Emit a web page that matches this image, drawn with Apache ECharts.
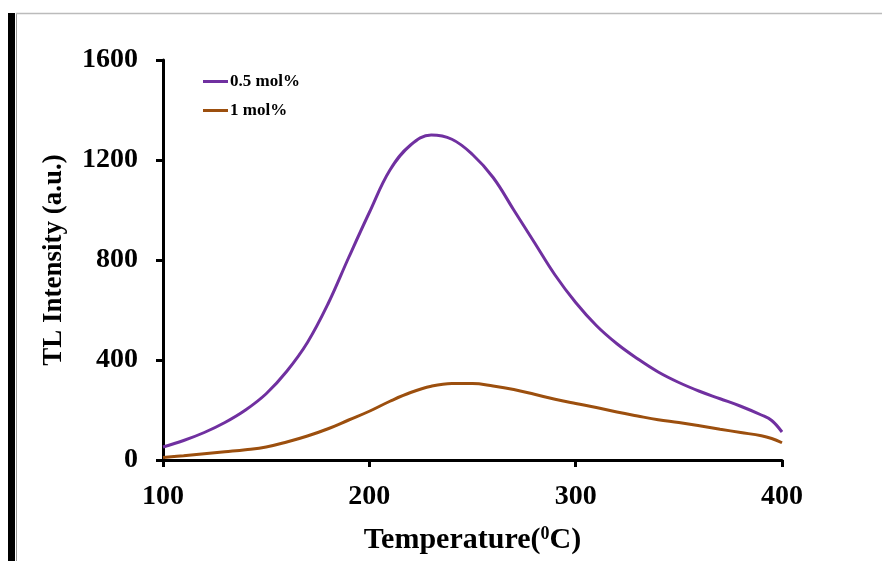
<!DOCTYPE html>
<html>
<head>
<meta charset="utf-8">
<script src="https://cdn.jsdelivr.net/npm/echarts@6/dist/echarts.min.js"></script>
<style>
html,body{margin:0;padding:0;background:#fff;}
#chart{width:882px;height:561px;}
</style>
</head>
<body>
<div id="chart"></div>
<script>
// Data
var temperature = [100,110,120,130,140,150,160,170,180,190,200,210,220,230,240,250,260,270,280,290,300,310,320,330,340,350,360,370,380,390,395,400];
var series05 = [52,78,110,150,200,265,355,470,625,810,990,1160,1260,1300,1283,1222,1130,1000,870,740,630,538,465,405,352,310,275,245,215,180,158,112];
var series1  = [10,17,25,33,41,52,72,96,125,160,195,235,270,295,306,306,296,282,263,243,226,210,192,176,161,150,137,123,110,97,86,69];
var seriesNames = ['0.5 mol%','1 mol%'];
var xTicks = [100,200,300,400];
var yTicks = [0,400,800,1200,1600];

function pairs(xs, ys){ return xs.map(function(x,i){ return [x, ys[i]]; }); }

var font = "'Liberation Serif','Times New Roman',serif";
var chart = echarts.init(document.getElementById('chart'));
chart.setOption({
  backgroundColor:'#fff',
  animation:false,
  grid:{left:163, right:100, top:60, bottom:101, containLabel:false},
  legend:{
    orient:'vertical', left:198, top:68, itemWidth:25, itemHeight:3, itemGap:12,
    icon:'rect',
    textStyle:{fontFamily:font, fontWeight:'bold', fontSize:17, color:'#000', padding:[0,0,0,-3]},
    data:seriesNames
  },
  xAxis:{
    type:'value', min:xTicks[0], max:xTicks[xTicks.length-1], interval:100,
    name:'Temperature({s|0}C)', nameLocation:'middle', nameGap:65,
    nameTextStyle:{fontFamily:font, fontWeight:'bold', fontSize:30, color:'#000',
      rich:{s:{fontFamily:font, fontWeight:'bold', fontSize:18, color:'#000', verticalAlign:'top', padding:[0,0,12,0]}}},
    axisLine:{show:true, lineStyle:{color:'#000', width:3}},
    axisTick:{show:true, inside:false, length:7, lineStyle:{color:'#000', width:3}},
    axisLabel:{fontFamily:font, fontWeight:'bold', fontSize:28, color:'#000', margin:23,
      formatter:function(v){ return String(v); }},
    splitLine:{show:false}
  },
  yAxis:{
    type:'value', min:yTicks[0], max:yTicks[yTicks.length-1], interval:400,
    name:'TL Intensity (a.u.)', nameLocation:'middle', nameGap:95, nameRotate:90,
    nameTextStyle:{fontFamily:font, fontWeight:'bold', fontSize:27, color:'#000'},
    axisLine:{show:true, lineStyle:{color:'#000', width:3}},
    axisTick:{show:true, inside:false, length:7, lineStyle:{color:'#000', width:3}},
    axisLabel:{fontFamily:font, fontWeight:'bold', fontSize:28, color:'#000', margin:25,
      formatter:function(v){ return String(v); }},
    splitLine:{show:false}
  },
  series:[
    {name:seriesNames[0], type:'line', smooth:0.4, showSymbol:false, data:pairs(temperature, series05),
     lineStyle:{color:'#7030A0', width:3}, itemStyle:{color:'#7030A0'}, z:3},
    {name:seriesNames[1], type:'line', smooth:0.4, showSymbol:false, data:pairs(temperature, series1),
     lineStyle:{color:'#9C4F0E', width:3}, itemStyle:{color:'#9C4F0E'}, z:3}
  ],
  graphic:[
    {type:'rect', shape:{x:8, y:13, width:7, height:548}, style:{fill:'#000'}, silent:true},
    {type:'line', shape:{x1:16.5, y1:13, x2:16.5, y2:561}, style:{stroke:'#999', lineWidth:1}, silent:true},
    {type:'line', shape:{x1:16, y1:13.5, x2:882, y2:13.5}, style:{stroke:'#bbb', lineWidth:1.5}, silent:true}
  ]
});
</script>
</body>
</html>
